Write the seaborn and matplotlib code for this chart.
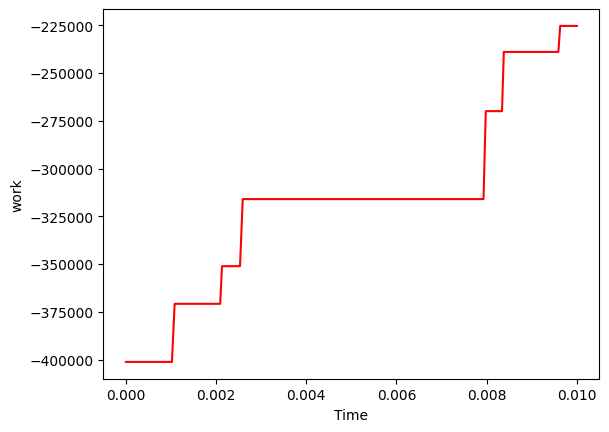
import matplotlib
matplotlib.use("Agg")
import matplotlib.pyplot as plt
import seaborn as sns
import pandas as pd

time = [0.0, 0.00102, 0.00108, 0.00209, 0.00213, 0.00253, 0.00259,
        0.00793, 0.00798, 0.00834, 0.00838, 0.00959, 0.00963, 0.01]
work = [-401200, -401200, -370800, -370800, -351100, -351100, -316000,
        -316000, -270000, -270000, -239000, -239000, -225400, -225400]

df = pd.DataFrame({"Time": time, "work": work})

fig, ax = plt.subplots(figsize=(6.4, 4.8), dpi=100)
sns.lineplot(data=df, x="Time", y="work", color="red", sort=False,
             estimator=None, ax=ax, linewidth=1.5)
ax.set_xlabel("Time")
ax.set_ylabel("work")
fig.savefig("out.png", dpi=100, bbox_inches="tight")
